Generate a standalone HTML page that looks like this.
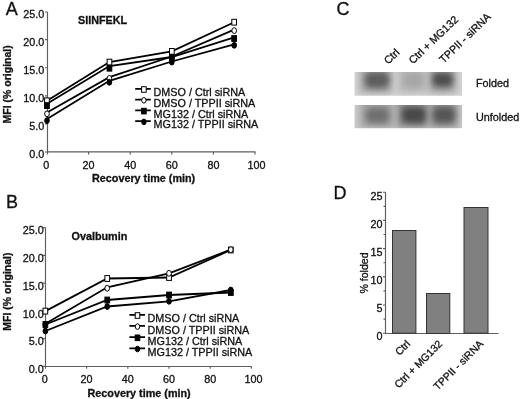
<!DOCTYPE html>
<html><head><meta charset="utf-8">
<style>
html,body{margin:0;padding:0;background:#fff;}
body{width:520px;height:399px;overflow:hidden;position:relative;}
svg{position:absolute;left:0;top:0;will-change:transform;filter:blur(0.3px);}
text{font-family:"Liberation Sans",sans-serif;fill:#111;stroke:#111;stroke-width:0.3px;}
.t{font-size:10.8px;}
.rc{font-size:10.7px;}
.rd{font-size:10.5px;}
.b{font-size:10.8px;font-weight:bold;}
.big{font-size:18px;}
.ax{stroke:#5e5e5e;stroke-width:1.15;fill:none;}
.ln{stroke:#000;stroke-width:1.8;fill:none;}
.os{fill:#fff;stroke:#000;stroke-width:1;}
.fs{fill:#000;stroke:#000;stroke-width:1;}
</style></head>
<body>
<svg width="520" height="399" viewBox="0 0 520 399">
<defs>
  <filter id="bl" x="-30%" y="-60%" width="160%" height="220%"><feGaussianBlur stdDeviation="3.2"/></filter>
</defs>

<!-- ============ PANEL A ============ -->
<text class="big" x="5.8" y="14.9">A</text>
<text class="b" x="78" y="23.8">SIINFEKL</text>
<text class="b" style="font-size:10.5px" transform="translate(10.6,123.4) rotate(-90)">MFI (% original)</text>
<g class="t" text-anchor="end">
  <text x="44.3" y="17.9">25.0</text>
  <text x="44.3" y="46.0">20.0</text>
  <text x="44.3" y="74.1">15.0</text>
  <text x="44.3" y="102.2">10.0</text>
  <text x="44.3" y="130.3">5.0</text>
  <text x="44.3" y="158.0">0.0</text>
</g>
<g class="t" text-anchor="middle">
  <text x="46.3" y="168.6">0</text>
  <text x="88.6" y="168.6">20</text>
  <text x="130.2" y="168.6">40</text>
  <text x="171.8" y="168.6">60</text>
  <text x="213.4" y="168.6">80</text>
  <text x="256.6" y="168.6">100</text>
</g>
<text class="b" x="92" y="181.5">Recovery time (min)</text>
<path class="ax" d="M47.5 12V151.9H255.5 M45 12H47.5 M45 39.6H47.5 M45 67.7H47.5 M45 95.8H47.5 M45 123.9H47.5 M45 152H47.5 M47.5 152V154.5 M88.6 152V154.5 M130.2 152V154.5 M171.8 152V154.5 M213.4 152V154.5 M255 152V154.5"/>
<!--SA-->
<polyline class="ln" points="47.0,100.8 109.4,62.1 171.8,51.4 234.2,22.2"/>
<polyline class="ln" points="47.0,112.5 109.4,77.1 171.8,56.5 234.2,29.6"/>
<polyline class="ln" points="47.0,103.8 109.4,66.0 171.8,57.0 234.2,37.3"/>
<polyline class="ln" points="47.0,119.1 109.4,80.8 171.8,61.5 234.2,44.3"/>
<g class="os">
<rect x="44.6" y="97.9" width="4.7" height="5.8"/>
<rect x="107.1" y="59.2" width="4.7" height="5.8"/>
<rect x="169.5" y="48.5" width="4.7" height="5.8"/>
<rect x="231.8" y="19.3" width="4.7" height="5.8"/>
<ellipse cx="47.0" cy="113.8" rx="2.35" ry="2.9"/>
<ellipse cx="109.4" cy="78.4" rx="2.35" ry="2.9"/>
<ellipse cx="171.8" cy="57.1" rx="2.35" ry="2.9"/>
<ellipse cx="234.2" cy="30.6" rx="2.35" ry="2.9"/>
</g><g class="fs">
<rect x="44.6" y="102.7" width="4.7" height="5.8"/>
<rect x="107.1" y="65.3" width="4.7" height="5.8"/>
<rect x="169.5" y="54.7" width="4.7" height="5.8"/>
<rect x="231.8" y="35.6" width="4.7" height="5.8"/>
<ellipse cx="47.0" cy="120.6" rx="2.35" ry="2.9"/>
<ellipse cx="109.4" cy="82.3" rx="2.35" ry="2.9"/>
<ellipse cx="171.8" cy="62.1" rx="2.35" ry="2.9"/>
<ellipse cx="234.2" cy="45.3" rx="2.35" ry="2.9"/>
</g>
<!--/SA-->
<!--LA-->
<path class="ln" d="M135.2 88.8H150.8 M135.2 99.6H150.8 M135.2 110.4H150.8 M135.2 121.2H150.8"/>
<rect class="os" x="141.6" y="86.7" width="4.6" height="5.6"/>
<ellipse class="os" cx="143.9" cy="100.3" rx="2.2" ry="2.8"/>
<rect class="fs" x="141.6" y="108.3" width="4.6" height="5.6"/>
<ellipse class="fs" cx="143.9" cy="121.9" rx="2.2" ry="2.8"/>
<!--/LA-->
<g class="t">
  <text x="153.5" y="95.9">DMSO / Ctrl siRNA</text>
  <text x="153.5" y="106.7">DMSO / TPPII siRNA</text>
  <text x="153.5" y="117.5">MG132 / Ctrl siRNA</text>
  <text x="153.5" y="128.3">MG132 / TPPII siRNA</text>
</g>

<!-- ============ PANEL B ============ -->
<text class="big" x="6" y="207.5">B</text>
<text class="b" x="71.5" y="239.9">Ovalbumin</text>
<text class="b" style="font-size:10.5px" transform="translate(10.6,330.7) rotate(-90)">MFI (% original)</text>
<g class="t" text-anchor="end">
  <text x="43.8" y="234.4">25.0</text>
  <text x="43.8" y="262.1">20.0</text>
  <text x="43.8" y="289.9">15.0</text>
  <text x="43.8" y="317.6">10.0</text>
  <text x="43.8" y="345.4">5.0</text>
  <text x="43.8" y="372.9">0.0</text>
</g>
<g class="t" text-anchor="middle">
  <text x="44.7" y="382.8">0</text>
  <text x="86.6" y="382.8">20</text>
  <text x="127.8" y="382.8">40</text>
  <text x="169" y="382.8">60</text>
  <text x="210.2" y="382.8">80</text>
  <text x="253.4" y="382.8">100</text>
</g>
<text class="b" x="87.5" y="396.5">Recovery time (min)</text>
<path class="ax" d="M45.5 227.6V366.5H251.5 M43 227.6H45.5 M43 255.35H45.5 M43 283.1H45.5 M43 310.85H45.5 M43 338.6H45.5 M43 366.3H45.5 M45.5 366.3V368.8 M86.6 366.3V368.8 M127.8 366.3V368.8 M169 366.3V368.8 M210.2 366.3V368.8 M251.4 366.3V368.8"/>
<!--SB-->
<polyline class="ln" points="45.4,311.1 107.2,278.5 169.0,277.5 230.8,250.0"/>
<polyline class="ln" points="45.4,323.8 107.2,287.3 169.0,273.3 230.8,249.7"/>
<polyline class="ln" points="45.4,324.5 107.2,300.0 169.0,295.0 230.8,292.5"/>
<polyline class="ln" points="45.4,331.0 107.2,306.5 169.0,301.3 230.8,290.0"/>
<g class="os">
<rect x="43.0" y="308.2" width="4.7" height="5.8"/>
<rect x="104.9" y="275.6" width="4.7" height="5.8"/>
<rect x="166.7" y="274.6" width="4.7" height="5.8"/>
<rect x="228.5" y="247.1" width="4.7" height="5.8"/>
<ellipse cx="45.4" cy="324.3" rx="2.35" ry="2.9"/>
<ellipse cx="107.2" cy="288.3" rx="2.35" ry="2.9"/>
<ellipse cx="169.0" cy="273.3" rx="2.35" ry="2.9"/>
<ellipse cx="230.8" cy="249.7" rx="2.35" ry="2.9"/>
</g><g class="fs">
<rect x="43.0" y="321.6" width="4.7" height="5.8"/>
<rect x="104.9" y="297.1" width="4.7" height="5.8"/>
<rect x="166.7" y="292.1" width="4.7" height="5.8"/>
<rect x="228.5" y="289.6" width="4.7" height="5.8"/>
<ellipse cx="45.4" cy="331.0" rx="2.35" ry="2.9"/>
<ellipse cx="107.2" cy="306.5" rx="2.35" ry="2.9"/>
<ellipse cx="169.0" cy="301.3" rx="2.35" ry="2.9"/>
<ellipse cx="230.8" cy="290.0" rx="2.35" ry="2.9"/>
</g>
<!--/SB-->
<!--LB-->
<path class="ln" d="M129.4 314.8H145 M129.4 325.9H145 M129.4 337.1H145 M129.4 348.3H145"/>
<rect class="os" x="135.2" y="312.7" width="4.6" height="5.6"/>
<ellipse class="os" cx="137.5" cy="326.6" rx="2.2" ry="2.8"/>
<rect class="fs" x="135.2" y="335.0" width="4.6" height="5.6"/>
<ellipse class="fs" cx="137.5" cy="349.0" rx="2.2" ry="2.8"/>
<!--/LB-->
<g class="t">
  <text x="147.5" y="322.4">DMSO / Ctrl siRNA</text>
  <text x="147.5" y="333.5">DMSO / TPPII siRNA</text>
  <text x="147.5" y="344.7">MG132 / Ctrl siRNA</text>
  <text x="147.5" y="355.9">MG132 / TPPII siRNA</text>
</g>

<!-- ============ PANEL C ============ -->
<text class="big" x="336.5" y="14.8">C</text>
<g class="t rc">
  <text transform="translate(388.2,64.8) rotate(-44)">Ctrl</text>
  <text transform="translate(413,64.6) rotate(-44)">Ctrl + MG132</text>
  <text transform="translate(443.6,63.8) rotate(-44)">TPPII - siRNA</text>
</g>
<!-- blot -->
<clipPath id="cb1"><rect x="354.6" y="72" width="107.5" height="23.7"/></clipPath>
<clipPath id="cb2"><rect x="354.6" y="105" width="107.5" height="23.2"/></clipPath>
<rect x="354.6" y="72" width="107.5" height="23.7" fill="#d2d2d2"/>
<rect x="354.6" y="105" width="107.5" height="23.2" fill="#cacaca"/>
<g clip-path="url(#cb1)">
 <g filter="url(#bl)">
  <rect x="360" y="62" width="32" height="31" fill="#a8a8a8"/>
  <rect x="398" y="62" width="29" height="31" fill="#bababa"/>
  <rect x="429" y="62" width="27" height="31" fill="#a8a8a8"/>
  <rect x="364" y="71" width="26" height="18" rx="7" fill="#5e5e5e"/>
  <rect x="403" y="72" width="21" height="16" rx="7" fill="#a6a6a6"/>
  <rect x="431" y="71" width="23" height="17" rx="7" fill="#505050"/>
 </g>
</g>
<g clip-path="url(#cb2)">
 <g filter="url(#bl)">
  <rect x="360" y="98" width="34" height="30" fill="#a4a4a4"/>
  <rect x="397" y="98" width="31" height="30" fill="#8e8e8e"/>
  <rect x="430" y="98" width="28" height="30" fill="#989898"/>
  <rect x="365" y="107" width="25" height="17" rx="7" fill="#707070"/>
  <rect x="401" y="106" width="26" height="18" rx="7" fill="#4a4a4a"/>
  <rect x="432" y="106" width="24" height="18" rx="7" fill="#575757"/>
 </g>
</g>
<text class="t" x="476" y="86.9">Folded</text>
<text class="t" x="476" y="120.5">Unfolded</text>

<!-- ============ PANEL D ============ -->
<text class="big" x="333.5" y="199.4">D</text>
<text class="t" style="font-size:10.6px" transform="translate(367.5,293.6) rotate(-90)">% folded</text>
<g class="t" text-anchor="end">
  <text x="382.4" y="199.6">25</text>
  <text x="382.4" y="227.8">20</text>
  <text x="382.4" y="256.0">15</text>
  <text x="382.4" y="284.2">10</text>
  <text x="382.4" y="312.4">5</text>
  <text x="382.4" y="340.3">0</text>
</g>
<path class="ax" d="M385.5 192.2V333.5H498.5 M383 192.2H385.5 M383.5 206.3H385.5 M383 220.4H385.5 M383.5 234.5H385.5 M383 248.6H385.5 M383.5 262.7H385.5 M383 276.8H385.5 M383.5 290.9H385.5 M383 305H385.5 M383.5 319.1H385.5 M383 333.2H385.5"/>
<g fill="#808080" stroke="#333" stroke-width="1">
  <rect x="392.5" y="230.5" width="23.4" height="102.7"/>
  <rect x="426.5" y="293.5" width="23.3" height="40"/>
  <rect x="464" y="207.5" width="24" height="125.7"/>
</g>
<g class="t rd" text-anchor="end">
  <text transform="translate(411,344.5) rotate(-45)">Ctrl</text>
  <text transform="translate(443,344.5) rotate(-45)">Ctrl + MG132</text>
  <text transform="translate(484,344.5) rotate(-45)">TPPII - siRNA</text>
</g>
</svg>
</body></html>
